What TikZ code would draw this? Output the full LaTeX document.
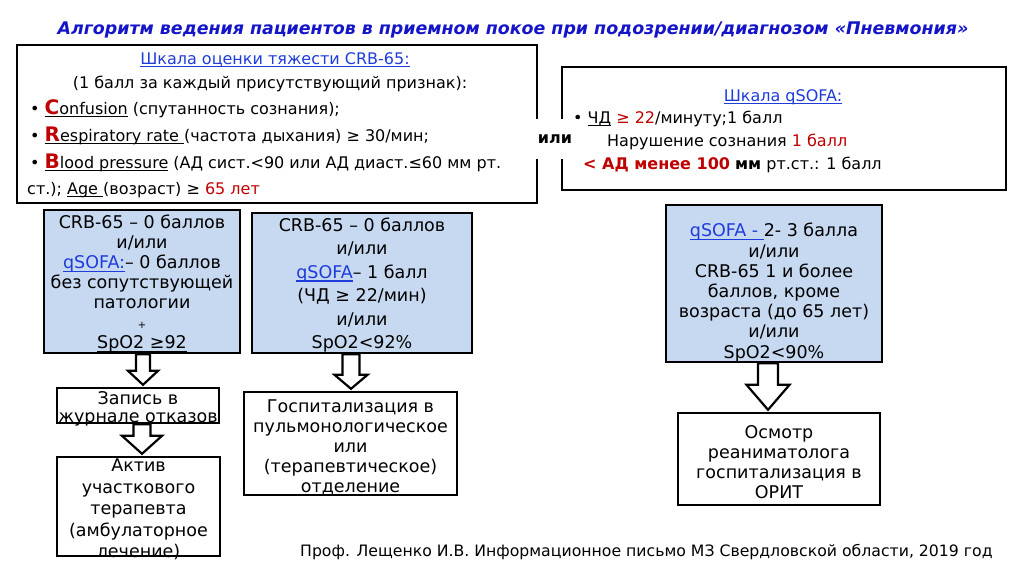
\documentclass[tikz,border=0pt]{standalone}
\usepackage{fontspec}
\setmainfont{DejaVu Sans}
\usetikzlibrary{calc}
\definecolor{titleblue}{RGB}{20,20,200}
\definecolor{linkblue}{RGB}{30,60,220}
\definecolor{crbred}{RGB}{192,0,0}
\definecolor{boxfill}{RGB}{198,217,241}
\newcommand\blockarrow[6]{%
\draw[hollowarrow] let \p1=(#1.south), \p2=(#2.north) in
 (\x1+#3-#4,\y1) -- (\x1+#3-#4,\y2+2pt+#6) -- (\x1+#3-#5,\y2+2pt+#6) -- (\x1+#3,\y2+2pt)
 -- (\x1+#3+#5,\y2+2pt+#6) -- (\x1+#3+#4,\y2+2pt+#6) -- (\x1+#3+#4,\y1) -- cycle;}
\newcommand\bigletter[1]{{\color{crbred}\bfseries\fontsize{20}{20}\selectfont #1}}
\newcommand\myul[1]{\setbox0\hbox{#1}\rlap{\vrule width\wd0 height -2.2pt depth 3.3pt}\box0\relax}
\begin{document}
\begin{tikzpicture}[x=1pt,y=-1pt,
  bigbox/.style={draw=black,line width=2.6pt,fill=white,inner sep=0pt},
  bluebox/.style={draw=black,line width=2.4pt,fill=boxfill,inner sep=0pt},
  whitebox/.style={draw=black,line width=2.4pt,fill=white,inner sep=0pt},
  txt/.style={inner sep=0pt,font=\fontsize{16}{18}\selectfont},
  ctxt/.style={inner sep=0pt,align=center},
  hollowarrow/.style={draw=black,line width=2.2pt,fill=white,line join=miter},
  ]
\useasboundingbox (0,0) rectangle (1024,574);
\fill[white] (0,0) rectangle (1024,574);

% title
\node[inner sep=0pt,anchor=base,font=\fontsize{17.4}{19}\bfseries\itshape\selectfont,text=titleblue] (title) at (513,34)
 {Алгоритм ведения пациентов в приемном покое при подозрении/диагнозом «Пневмония»};

% CRB-65 box
\node[bigbox,minimum width=520pt,minimum height=158pt] (crb) at (277,124) {};
\node[txt,anchor=base,text=linkblue] (crb1) at (275,64) {\myul{Шкала оценки тяжести CRB-65:}};
\node[txt,anchor=base] (crb2) at (270,88) {(1 балл за каждый присутствующий признак):};
\node[txt,anchor=base west] (crb3) at (30,114) {• \myul{\bigletter{C}onfusion} (спутанность сознания);};
\node[txt,anchor=base west] (crb4) at (30,141) {• \myul{\bigletter{R}espiratory rate }(частота дыхания) ≥ 30/мин;};
\node[txt,anchor=base west] (crb5) at (30,168) {• \myul{\bigletter{B}lood pressure} (АД сист.<90 или АД диаст.≤60 мм рт.};
\node[txt,anchor=base west] (crb6) at (27,194) {ст.); \myul{Age }(возраст) ≥ {\color{crbred}65 лет}};

% qSOFA box
\node[bigbox,minimum width=444pt,minimum height=123pt] (qs) at (784,128.5) {};
\node[txt,anchor=base,text=linkblue] (qs1) at (783,101) {\myul{Шкала qSOFA:}};
\node[txt,anchor=base west] (qs2) at (573,123) {• \myul{ЧД} {\color{crbred}≥ 22}/минуту;1 балл};
\node[txt,anchor=base west] (qs3) at (607,146) {Нарушение сознания {\color{crbred}1 балл}};
\node[txt,anchor=base west] (qs4) at (583,169) {{\bfseries\color{crbred}< АД менее 100} {\bfseries мм} рт.ст.: 1 балл};

% "или" between
\node[fill=white,inner sep=0pt,minimum width=46pt,minimum height=40pt,font=\fontsize{16}{18}\bfseries\selectfont] (ili) at (555,139) {или};

% blue boxes
\node[bluebox,minimum width=196pt,minimum height=143pt] (b1) at (142,281.5) {};
\node[ctxt,font=\fontsize{17.5}{20}\selectfont] (t1) at (142,283.5)
 {CRB-65 – 0 баллов\\ и/или\\ {\color{linkblue}\myul{qSOFA:}}– 0 баллов\\ без сопутствующей\\ патологии\\ {\fontsize{10}{10}\selectfont +}\\ \myul{SpO2 ≥92}};

\node[bluebox,minimum width=220pt,minimum height=140pt] (b2) at (362,283) {};
\node[ctxt,font=\fontsize{17.5}{23.5}\selectfont] (t2) at (362,285)
 {CRB-65 – 0 баллов\\ и/или\\ {\color{linkblue}\myul{qSOFA}}– 1 балл\\ (ЧД ≥ 22/мин)\\ и/или\\ SpO2<92\%};

\node[bluebox,minimum width=216pt,minimum height=157pt] (b3) at (774,283.5) {};
\node[ctxt,font=\fontsize{17.5}{20.2}\selectfont] (t3) at (774,292.5)
 {{\color{linkblue}\myul{qSOFA - }}2- 3 балла\\ и/или\\ CRB-65 1 и более\\ баллов, кроме\\ возраста (до 65 лет)\\ и/или\\ SpO2<90\%};

% white boxes
\node[whitebox,minimum width=162pt,minimum height=35pt] (w1) at (138,405.5) {};
\node[ctxt,font=\fontsize{17.5}{18}\selectfont] (tw1) at (138,409) {Запись в\\ журнале отказов};

\node[whitebox,minimum width=163pt,minimum height=99pt] (w2) at (138.5,506.5) {};
\node[ctxt,font=\fontsize{17.5}{21.5}\selectfont] (tw2) at (138.5,509.5) {Актив\\ участкового\\ терапевта\\ (амбулаторное\\ лечение)};

\node[whitebox,minimum width=213pt,minimum height=103pt] (w3) at (350.5,443.5) {};
\node[ctxt,font=\fontsize{17.5}{20}\selectfont] (tw3) at (350.5,447.5) {Госпитализация в\\ пульмонологическое\\ или\\ (терапевтическое)\\ отделение};

\node[whitebox,minimum width=202pt,minimum height=92pt] (w4) at (779,459) {};
\node[ctxt,font=\fontsize{17.5}{20}\selectfont] (tw4) at (779,462) {Осмотр\\ реаниматолога\\ госпитализация в\\ ОРИТ};

% hollow arrows
\blockarrow{b1}{w1}{1pt}{7pt}{15pt}{14pt}
\blockarrow{w1}{w2}{4pt}{8.5pt}{20pt}{18pt}
\blockarrow{b2}{w3}{-11pt}{8.5pt}{16.5pt}{14pt}
\blockarrow{b3}{w4}{-6pt}{10pt}{21.5pt}{25pt}

% footer
\node[inner sep=0pt,anchor=base west,font=\fontsize{15.7}{17}\selectfont] (foot) at (300,556)
 {Проф. Лещенко И.В. Информационное письмо МЗ Свердловской области, 2019 год};
\end{tikzpicture}
\end{document}
